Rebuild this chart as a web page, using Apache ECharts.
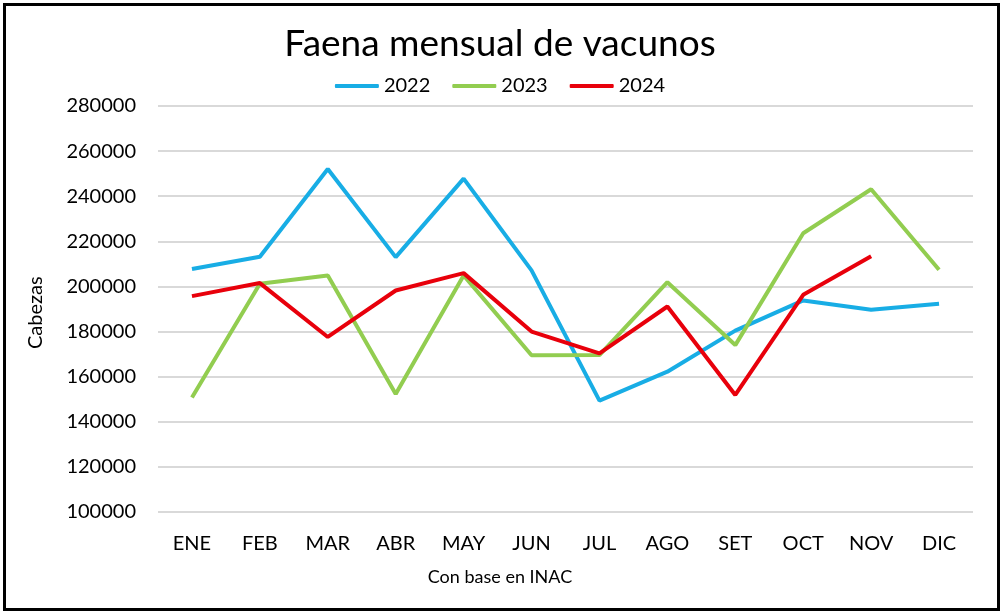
<!DOCTYPE html>
<html>
<head>
<meta charset="utf-8">
<script src="https://cdn.jsdelivr.net/npm/echarts@6/dist/echarts.min.js"></script>
<style>
  html, body { margin: 0; padding: 0; background: #fff; }
  #chart { width: 1000px; height: 612px; }
</style>
</head>
<body>
<div id="chart"></div>
<script>
const meses = ['ENE', 'FEB', 'MAR', 'ABR', 'MAY', 'JUN', 'JUL', 'AGO', 'SET', 'OCT', 'NOV', 'DIC'];
const anio2022 = [207700, 213200, 252100, 213000, 247800, 207100, 149400, 162200, 180400, 193800, 189700, 192300];
const anio2023 = [150800, 201200, 204900, 152300, 204900, 169500, 169600, 201900, 174000, 223600, 243100, 207400];
const anio2024 = [195700, 201500, 177600, 198200, 205900, 180000, 170300, 191100, 151900, 196300, 213400, null];

const fuente = 'Lato, "Open Sans", sans-serif';

function linea(nombre, datos, color) {
  return {
    name: nombre,
    type: 'line',
    data: datos,
    symbol: 'none',
    lineStyle: { width: 4, color: color },
    itemStyle: { color: color }
  };
}

let myChart = echarts.init(document.getElementById('chart'));
let option = {
  animation: false,
  backgroundColor: '#fff',
  textStyle: { fontFamily: fuente },
  title: {
    text: 'Faena mensual de vacunos',
    left: 'center',
    top: 21,
    textStyle: { fontFamily: fuente, fontSize: 37, fontWeight: 'normal', color: '#000' }
  },
  legend: {
    top: 71,
    left: 'center',
    icon: 'roundRect',
    itemWidth: 44,
    itemHeight: 4,
    itemGap: 22,
    textStyle: { fontFamily: fuente, fontSize: 20, color: '#000' },
    data: ['2022', '2023', '2024']
  },
  grid: { left: 158, right: 27, top: 106, bottom: 100 },
  xAxis: {
    type: 'category',
    data: meses,
    boundaryGap: true,
    axisLine: { show: false },
    axisTick: { show: false },
    axisLabel: { fontFamily: fuente, fontSize: 20, color: '#000', margin: 22 }
  },
  yAxis: {
    type: 'value',
    min: 100000,
    max: 280000,
    interval: 20000,
    axisLine: { show: false },
    axisTick: { show: false },
    axisLabel: {
      fontFamily: fuente, fontSize: 20, color: '#000', margin: 22,
      formatter: function (v) { return String(v); }
    },
    splitLine: { lineStyle: { color: '#d9d9d9', width: 2 } }
  },
  graphic: [
    {
      type: 'rect',
      left: 2, top: 2,
      shape: { width: 994, height: 605 },
      style: { fill: 'none', stroke: '#000', lineWidth: 3 },
      silent: true
    },
    {
      type: 'text',
      left: 'center',
      x: -62,
      top: 568,
      style: { text: 'Con base en INAC', font: '18px ' + fuente, fill: '#000' }
    },
    {
      type: 'text',
      x: 26,
      y: 349,
      rotation: Math.PI / 2,
      style: { text: 'Cabezas', font: '20px ' + fuente, fill: '#000' }
    }
  ],
  series: [
    linea('2022', anio2022, '#18ADE5'),
    linea('2023', anio2023, '#92CD50'),
    linea('2024', anio2024, '#E8000B')
  ]
};
myChart.setOption(option);

window.addEventListener('resize', function () {
  myChart.resize();
}, false);
</script>
</body>
</html>
